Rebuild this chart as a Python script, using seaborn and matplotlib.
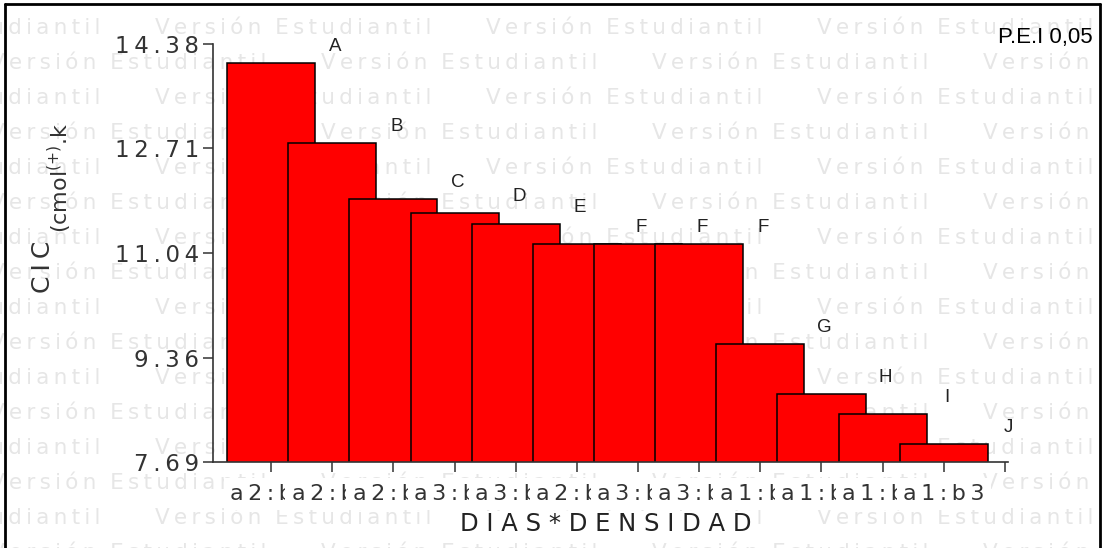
import pandas as pd
import matplotlib
matplotlib.use("Agg")
import matplotlib.pyplot as plt
import seaborn as sns
from matplotlib.lines import Line2D

# datos (DIAS*DENSIDAD vs CIC)
grupos = ["a2:b1", "a2:b2", "a2:b3", "a3:b1", "a3:b2", "a2:b4",
          "a3:b3", "a3:b4", "a1:b1", "a1:b2", "a1:b4", "a1:b3"]
cic = [14.08, 12.80, 11.90, 11.68, 11.50, 11.18,
       11.18, 11.18, 9.58, 8.78, 8.46, 7.98]
letras = ["A", "B", "C", "D", "E", "F", "F", "F", "G", "H", "I", "J"]
y_ticks = [7.69, 9.36, 11.04, 12.71, 14.38]

W, H = 1104, 548
THIN = "\u2009"


def spaced(s, gap=THIN):
    # SPSS dibuja el texto con espacio extra entre letras
    return gap.join(s)


sns.set_theme(style="white")
plt.rcParams["font.family"] = ["DejaVu Sans"]

fig = plt.figure(figsize=(W / 100, H / 100), dpi=100)
ax = fig.add_axes([213 / W, 1 - 462 / H, (1008 - 213) / W, (462 - 44) / H])
ax.patch.set_visible(False)

# marca de agua "Versión Estudiantil"
mark = "  ".join(spaced(w) for w in "Versión Estudiantil".split())
for k in range(16):
    y = 28 + 35 * k
    x0 = 155 - 331 if k % 2 == 0 else -10
    for j in range(5):
        fig.text((x0 + 331 * j) / W, 1 - y / H, mark, fontsize=15.5,
                 color="#e6e6e6", va="center", ha="left", zorder=-5)

df = pd.DataFrame({"grupo": grupos, "cic": cic})
sns.barplot(data=df, x="grupo", y="cic", order=grupos, color="#ff0000",
            saturation=1, width=1.44, edgecolor="black", linewidth=1.1,
            errorbar=None, ax=ax)

ax.set_xlim(-0.95, 12.05)
ax.set_ylim(7.69, 14.38)

for i, (v, l) in enumerate(zip(cic, letras)):
    ax.text(i + 1.05, v + 0.26, l, ha="center", va="center", fontsize=13.5,
            family="Liberation Sans", color="#222222", clip_on=False)

ax.set_yticks(y_ticks)
ax.set_yticklabels([spaced(f"{t:.2f}") for t in y_ticks])
ax.set_xticks(range(len(grupos) + 1))
ax.set_xticklabels([spaced(g) for g in grupos] + [""])
ax.tick_params(axis="y", direction="out", length=7, width=1.1, color="#333333",
               labelsize=16.5, labelcolor="#333333", pad=3, left=True)
ax.tick_params(axis="x", direction="out", length=7, width=1.1, color="#333333",
               labelsize=16, labelcolor="#333333", pad=9, bottom=True)
# cada etiqueta tapa la cola de la anterior, como en SPSS
for lbl in ax.get_xticklabels():
    lbl.set_bbox(dict(facecolor="white", edgecolor="none", pad=4.5))

sns.despine(ax=ax)
for s in ["left", "bottom"]:
    ax.spines[s].set_color("#333333")
    ax.spines[s].set_linewidth(1.2)
ax.set_xlabel("")
ax.set_ylabel("")

# titulos de ejes
fig.text(606 / W, 1 - 524 / H, spaced("DIAS*DENSIDAD", " "), fontsize=17.5,
         ha="center", va="center", color="#222222",
         bbox=dict(facecolor="white", edgecolor="none", pad=1))
fig.text(50 / W, 1 - 293 / H, spaced("CIC"), fontsize=18, rotation=90,
         rotation_mode="anchor", ha="left", va="baseline", color="#333333")
fig.text(68 / W, 1 - 233 / H, "(cmol$^{(+)}$.k",
         fontsize=16, rotation=90, rotation_mode="anchor", ha="left",
         va="baseline", color="#333333")

fig.text(1093 / W, 1 - 38 / H, "P.E.I 0,05", fontsize=16,
         family="Liberation Sans", ha="right", va="center", color="black")

# marco exterior
for xs, ys in [([5, 5], [H + 5, 4]), ([5, 1100], [4, 4]), ([1100, 1100], [4, H + 5])]:
    fig.add_artist(Line2D([x / W for x in xs], [1 - y / H for y in ys],
                          transform=fig.transFigure, color="black", lw=2))

plt.savefig("out.png", dpi=100)
